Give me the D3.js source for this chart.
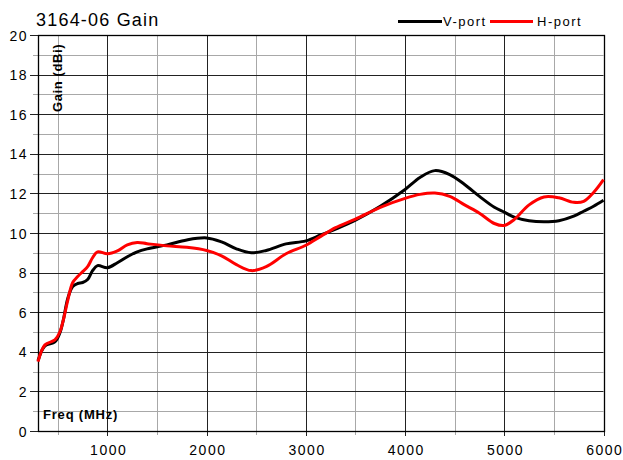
<!DOCTYPE html>
<html><head><meta charset="utf-8">
<script src="https://cdn.jsdelivr.net/npm/d3@7"></script>
<style>
body{margin:0;background:#fff;}
svg{display:block;font-family:"Liberation Sans",Arial,sans-serif;}
</style></head>
<body>
<svg id="c" width="623" height="460"></svg>
<script>
const title = "3164-06 Gain";
const freq = [300,370,470,520,555,600,650,700,750,800,850,900,1000,1100,1200,1300,1400,1600,1800,2000,2150,2300,2450,2600,2800,3000,3150,3300,3500,3750,4000,4150,4300,4450,4600,4750,4900,5000,5100,5250,5400,5550,5700,5800,5900,6000];
const vPort = [3.55,4.3,4.5,4.95,5.6,6.7,7.3,7.45,7.5,7.65,8.1,8.35,8.25,8.5,8.8,9.05,9.2,9.4,9.65,9.75,9.55,9.2,9.0,9.12,9.45,9.6,9.9,10.2,10.65,11.35,12.2,12.8,13.15,12.95,12.45,11.85,11.3,11.05,10.8,10.62,10.57,10.62,10.85,11.1,11.35,11.65];
const hPort = [3.5,4.35,4.6,5.0,5.6,6.6,7.5,7.8,8.05,8.3,8.75,9.05,8.95,9.1,9.4,9.52,9.46,9.35,9.28,9.12,8.85,8.4,8.1,8.3,8.95,9.38,9.83,10.27,10.7,11.3,11.75,11.95,12.02,11.85,11.42,11.0,10.48,10.38,10.68,11.42,11.82,11.78,11.55,11.6,12.05,12.7];
const seriesNames = ["V-port","H-port"];
const seriesColors = ["#000000","#ff0000"];
const xTicks = [1000,2000,3000,4000,5000,6000];
const yTicks = [0,2,4,6,8,10,12,14,16,18,20];

const svg = d3.select("#c");
const L=38, R=603.5, T=35, B=431;
const x = d3.scaleLinear().domain([300,6000]).range([L,R]);
const y = d3.scaleLinear().domain([0,20]).range([B,T]);
const px = v => Math.round(v)+0.5;

const g = svg.append("g");
const xMinor = d3.range(500,6000,1000);
const yMinor = d3.range(1,20,2);
g.selectAll(".xm").data(xMinor).join("line")
  .attr("x1",d=>px(x(d))).attr("x2",d=>px(x(d))).attr("y1",T).attr("y2",B+4)
  .attr("stroke","#a8a8a8").attr("stroke-width",1);
g.selectAll(".ym").data(yMinor).join("line")
  .attr("x1",L-5).attr("x2",R).attr("y1",d=>px(y(d))).attr("y2",d=>px(y(d)))
  .attr("stroke","#a8a8a8").attr("stroke-width",1);
g.selectAll(".xM").data(xTicks).join("line")
  .attr("x1",d=>px(x(d))).attr("x2",d=>px(x(d))).attr("y1",T).attr("y2",B+5)
  .attr("stroke","#222").attr("stroke-width",1);
g.selectAll(".yM").data(yTicks).join("line")
  .attr("x1",L-8).attr("x2",R).attr("y1",d=>px(y(d))).attr("y2",d=>px(y(d)))
  .attr("stroke","#222").attr("stroke-width",1);
g.append("rect").attr("x",px(L)).attr("y",px(T)).attr("width",Math.round(R)-Math.round(L)).attr("height",Math.round(B)-Math.round(T))
  .attr("fill","none").attr("stroke","#000").attr("stroke-width",1.3);

const xAxis = d3.axisBottom(x).tickValues(xTicks).tickSize(0).tickPadding(0).tickFormat(d3.format("d"));
const ax = svg.append("g").attr("transform",`translate(0,${B})`).call(xAxis);
ax.select(".domain").remove();
ax.selectAll("text").attr("y",24).attr("dy",null).attr("font-size",14).attr("letter-spacing","1.5px")
  .attr("font-family","Liberation Sans, Arial, sans-serif").attr("fill","#000").attr("dx",0.75);
const yAxis = d3.axisLeft(y).tickValues(yTicks).tickSize(0).tickPadding(0).tickFormat(d3.format("d"));
const ay = svg.append("g").attr("transform",`translate(${L-10},0)`).call(yAxis);
ay.select(".domain").remove();
ay.selectAll("text").attr("x",0).attr("dy","0.36em").attr("font-size",14).attr("letter-spacing","1.5px")
  .attr("font-family","Liberation Sans, Arial, sans-serif").attr("fill","#000");

const line = d3.line().x((d,i)=>x(freq[i])).y(d=>y(d)).curve(d3.curveCatmullRom.alpha(0.5));
[vPort,hPort].forEach((s,k)=>{
  svg.append("path").datum(s).attr("d",line).attr("fill","none")
    .attr("stroke",seriesColors[k]).attr("stroke-width",3).attr("stroke-linejoin","round");
});

svg.append("text").attr("x",36).attr("y",26).attr("font-size",18).attr("letter-spacing","1.2px")
  .attr("fill","#000").text(title);
svg.append("text").attr("transform","translate(62,112) rotate(-90)").attr("font-size",13)
  .attr("font-weight","bold").attr("letter-spacing","0.6px").attr("fill","#000").text("Gain (dBi)");
svg.append("text").attr("x",43).attr("y",419).attr("font-size",13)
  .attr("font-weight","bold").attr("letter-spacing","0.8px").attr("fill","#000").text("Freq (MHz)");

const leg = [{x1:398,x2:442,tx:443},{x1:490,x2:533,tx:537}];
leg.forEach((l,k)=>{
  svg.append("line").attr("x1",l.x1).attr("x2",l.x2).attr("y1",21.5).attr("y2",21.5)
    .attr("stroke",seriesColors[k]).attr("stroke-width",3);
  svg.append("text").attr("x",l.tx).attr("y",26).attr("font-size",13).attr("letter-spacing","1.5px")
    .attr("fill","#000").text(seriesNames[k]);
});
</script>
</body></html>
